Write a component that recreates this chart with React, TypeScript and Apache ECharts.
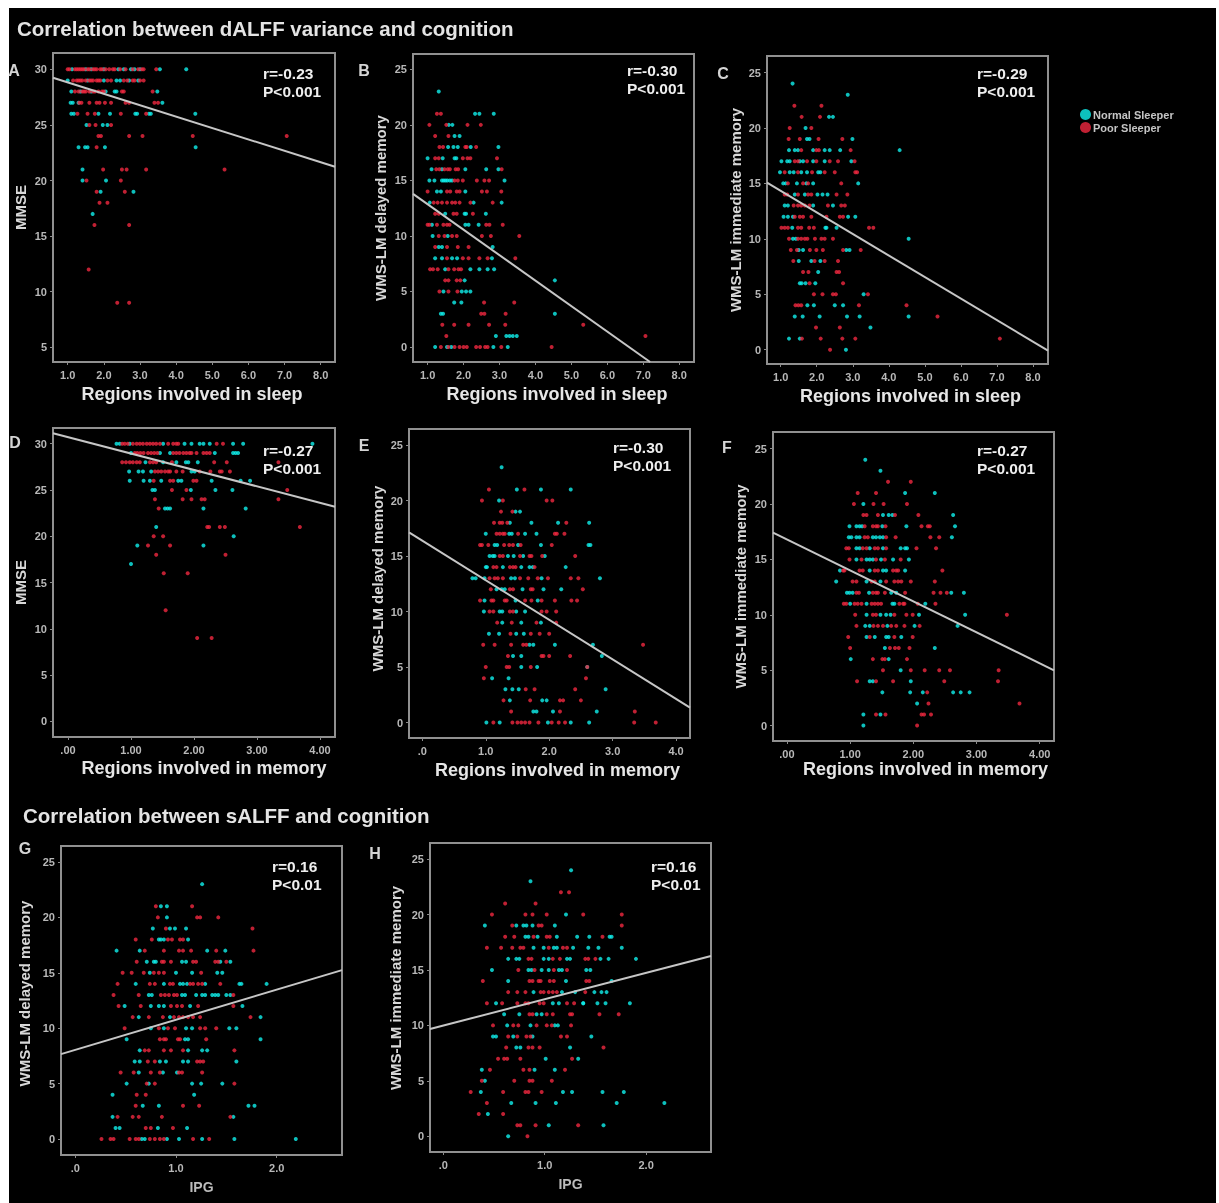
import React, { useEffect, useRef } from "react";
import * as echarts from "echarts";

type Row = [number, number[]];

// ---------- Panel A ----------
const normalA: Row[] = [
  [30, [1.12, 1.5, 1.65, 2.0, 2.4, 2.55, 2.75, 2.85, 3.0, 3.55, 4.28]],
  [29, [1.0, 1.55, 2.0, 2.35, 2.45, 2.7, 2.95]],
  [28, [1.1, 1.35, 1.65, 2.05, 2.3, 2.35, 3.48]],
  [27, [1.08, 1.14, 1.3, 3.62]],
  [26, [1.1, 1.17, 1.85, 2.17, 2.87, 2.92, 3.25, 3.3, 4.53]],
  [25, [1.52, 1.97, 2.1]],
  [23, [1.3, 1.48, 1.55, 2.03, 4.54]],
  [21, [1.41]],
  [20, [1.41, 2.06]],
  [19, [1.91, 2.82]],
  [17, [1.69]],
];
const poorA: Row[] = [
  [30, [1.0, 1.05, 1.2, 1.25, 1.3, 1.35, 1.4, 1.45, 1.55, 1.6, 1.7, 1.75, 1.8, 1.9, 1.95, 2.05, 2.15, 2.25, 2.3, 2.45, 2.6, 2.8, 2.95, 3.05, 3.1, 3.45]],
  [29, [1.15, 1.25, 1.3, 1.35, 1.4, 1.5, 1.6, 1.65, 1.7, 1.8, 1.85, 1.9, 2.1, 2.2, 2.55, 2.65, 2.8, 2.85, 3.0, 3.1]],
  [28, [1.2, 1.3, 1.4, 1.45, 1.5, 1.6, 1.7, 1.75, 1.85, 1.95, 2.0, 2.5, 2.55, 3.35]],
  [27, [1.32, 1.38, 1.6, 1.8, 1.88, 2.03, 2.2, 2.6, 2.7, 3.4, 3.5]],
  [26, [1.27, 1.55, 1.75, 2.47, 3.17]],
  [25, [1.6, 1.77, 2.2]],
  [24, [1.85, 1.92, 2.7, 3.07, 4.46, 7.06]],
  [23, [1.8]],
  [21, [1.98, 2.5, 2.63, 3.17, 5.34]],
  [20, [1.52, 2.47]],
  [19, [1.8, 2.58]],
  [18, [1.88, 2.1]],
  [16, [1.74, 2.7]],
  [12, [1.58]],
  [9, [2.37, 2.7]],
];
const fitA: number[][] = [[0.593, 29.24], [8.396, 21.24]];

// ---------- Panel B ----------
const normalB: Row[] = [
  [23, [1.31]],
  [21, [2.32, 2.44, 2.84]],
  [20, [1.59, 1.69]],
  [19, [1.75, 1.89]],
  [18, [1.57, 1.72, 1.84, 2.2, 2.97]],
  [17, [1.0, 1.42, 1.75, 1.8]],
  [16, [1.11, 1.4, 2.05, 2.63, 2.97]],
  [15, [1.05, 1.19, 1.4, 1.45, 1.5, 1.55, 1.62, 1.68, 3.14]],
  [14, [1.26, 1.37, 2.05]],
  [13, [1.06, 2.28, 3.06]],
  [12, [1.49, 2.03, 2.07, 2.62]],
  [11, [1.12, 2.05, 2.14, 2.42]],
  [10, [1.14, 1.56]],
  [9, [1.31, 1.4, 2.81]],
  [8, [1.21, 1.4, 1.68, 1.82, 2.79]],
  [7, [1.49, 2.19, 2.44, 2.67, 2.85]],
  [6, [2.03, 4.54]],
  [5, [1.44, 1.95, 2.07, 2.19]],
  [4, [1.74, 1.94]],
  [3, [1.37, 1.43, 4.54]],
  [1, [2.9, 3.19, 3.28, 3.37, 3.48]],
  [0, [1.21, 1.54, 1.66, 2.83, 3.23]],
];
const poorB: Row[] = [
  [21, [1.26, 1.37]],
  [20, [1.05, 1.52, 2.11, 2.48]],
  [19, [1.21, 1.58]],
  [18, [1.33, 1.43, 2.05, 2.09, 2.35]],
  [17, [1.21, 1.31, 1.98, 2.11, 2.19, 2.93]],
  [16, [1.24, 1.33, 1.47, 1.56, 1.62, 1.78, 1.85, 3.06]],
  [15, [1.75, 1.84, 1.98, 2.37, 2.58, 2.71]],
  [14, [1.0, 1.54, 1.63, 1.81, 1.89, 2.51, 2.65, 3.05]],
  [13, [1.17, 1.28, 1.4, 1.54, 1.68, 1.77, 1.89, 2.19, 2.81]],
  [12, [1.21, 1.31, 1.72, 1.81, 2.26]],
  [11, [1.0, 1.05, 1.26, 1.44, 1.54, 1.61, 2.63, 2.72, 3.09]],
  [10, [1.31, 1.47, 1.68, 1.81, 2.51, 2.76, 3.55]],
  [9, [1.21, 1.54, 1.84, 2.14]],
  [8, [1.54, 1.98, 2.14, 2.44, 2.67, 3.44]],
  [7, [1.07, 1.15, 1.28, 1.58, 1.74, 1.86, 1.93]],
  [6, [1.49, 1.58, 1.81, 1.91]],
  [5, [1.33, 1.58, 1.83]],
  [4, [2.57, 3.41]],
  [3, [2.49, 2.58, 3.17]],
  [2, [1.41, 1.74, 2.14, 2.71, 3.16, 5.33]],
  [1, [1.52, 7.06]],
  [0, [1.37, 1.58, 1.75, 1.89, 2.0, 2.09, 2.35, 2.46, 2.6, 2.67, 3.05, 4.45]],
];
const fitB: number[][] = [[0.594, 13.79], [7.19, -1.35]];

// ---------- Panel C ----------
const normalC: Row[] = [
  [24, [1.33]],
  [23, [2.86]],
  [21, [2.34, 2.45]],
  [20, [1.69]],
  [19, [1.73, 1.8, 2.99]],
  [18, [1.23, 1.39, 1.48, 1.9, 2.22, 2.36, 2.65, 4.3]],
  [17, [1.02, 1.18, 1.25, 1.53, 1.62, 1.9, 2.22, 2.96]],
  [16, [0.98, 1.25, 1.36, 1.57, 1.73, 2.04, 2.1]],
  [15, [1.07, 1.14, 1.45, 1.71, 1.9, 3.15]],
  [14, [1.39, 1.67, 2.02, 2.16, 2.3]],
  [13, [1.11, 1.2, 1.9, 2.45]],
  [12, [1.08, 1.2, 1.34, 2.87, 3.07]],
  [11, [1.32, 2.24, 2.27, 2.55]],
  [10, [1.34, 1.42, 4.55]],
  [9, [1.5, 1.62, 2.82, 2.91]],
  [8, [1.5, 1.85, 2.1]],
  [7, [2.04]],
  [6, [1.53, 1.58, 1.69, 1.96]],
  [5, [3.3]],
  [4, [1.74, 1.92, 2.5, 2.73]],
  [3, [1.39, 1.61, 2.08, 2.84, 3.19, 4.55]],
  [2, [3.49]],
  [1, [1.23, 1.53]],
  [0, [2.81]],
];
const poorC: Row[] = [
  [22, [1.38, 2.13]],
  [21, [1.58, 2.09]],
  [20, [1.25, 1.85]],
  [19, [1.22, 1.53, 2.05, 2.71]],
  [18, [1.57, 1.99, 2.06, 2.94]],
  [17, [1.39, 1.48, 1.73, 1.99, 2.36, 2.59, 3.05]],
  [16, [1.11, 1.48, 1.87, 2.22, 2.5, 3.07, 3.12]],
  [15, [1.2, 1.62, 1.76, 2.68]],
  [14, [1.11, 1.18, 1.48, 1.76, 1.85, 2.55, 2.85]],
  [13, [1.36, 1.48, 1.57, 1.67, 1.8, 2.31, 2.68, 2.78]],
  [12, [1.39, 1.53, 1.62, 1.85, 2.27, 2.64, 2.73]],
  [11, [1.02, 1.11, 1.2, 1.48, 1.57, 1.79, 1.92, 3.45, 3.57]],
  [10, [1.23, 1.48, 1.57, 1.67, 1.74, 1.95, 2.13, 2.22, 2.45]],
  [9, [1.28, 1.45, 1.81, 1.99, 2.17, 2.73, 3.22]],
  [8, [1.35, 1.94, 2.22, 2.59]],
  [7, [1.62, 1.77, 2.55, 2.62]],
  [6, [1.8, 2.73]],
  [5, [1.92, 2.16, 2.45, 2.53, 3.42]],
  [4, [1.41, 1.49, 1.57, 3.17, 4.49]],
  [3, [5.35]],
  [2, [1.98, 2.64]],
  [1, [1.59, 2.11, 2.71, 3.07, 7.08]],
  [0, [2.37]],
];
const fitC: number[][] = [[0.62, 15.06], [8.416, -0.09]];

// ---------- Panel D ----------
const normalD: Row[] = [
  [30, [0.77, 0.82, 0.98, 1.51, 1.85, 1.96, 2.09, 2.15, 2.25, 2.62, 2.78, 3.88]],
  [29, [1.0, 1.46, 1.62, 2.33, 2.62, 2.66, 2.7]],
  [28, [1.23, 1.51, 1.72, 1.87, 1.91, 2.06]],
  [27, [0.97, 1.12, 1.19, 1.32, 1.96, 2.01]],
  [26, [0.98, 1.2, 1.3, 1.48, 1.75, 1.8, 2.28, 2.74, 2.89]],
  [25, [1.34, 1.38, 1.95, 2.34, 2.61]],
  [23, [1.54, 1.58, 1.62, 2.15, 2.82]],
  [21, [1.4]],
  [20, [2.63]],
  [19, [1.1, 2.15]],
  [17, [1.0]],
];
const poorD: Row[] = [
  [30, [0.86, 0.9, 0.95, 1.03, 1.09, 1.14, 1.19, 1.25, 1.3, 1.35, 1.4, 1.46, 1.59, 1.67, 1.72, 1.75, 2.36, 2.46]],
  [29, [1.06, 1.1, 1.15, 1.2, 1.27, 1.32, 1.37, 1.42, 1.67, 1.72, 1.77, 1.83, 1.88, 1.93, 1.96, 2.04, 2.15, 2.2, 2.25]],
  [28, [0.86, 0.92, 0.98, 1.03, 1.09, 1.14, 1.3, 1.35, 1.4, 1.65, 2.32, 2.52, 3.34]],
  [27, [1.38, 1.43, 1.48, 1.54, 1.59, 1.62, 1.72, 1.82, 2.09, 2.26, 2.41, 2.44, 2.57]],
  [26, [1.36, 1.62, 1.67, 1.99, 2.04]],
  [25, [1.65, 1.88, 3.48]],
  [24, [1.38, 1.82, 1.96, 2.12, 2.17, 3.34]],
  [23, [1.44]],
  [21, [2.21, 2.24, 2.41, 2.49, 3.68]],
  [20, [1.36, 1.51]],
  [19, [1.27, 1.62]],
  [18, [1.4, 2.5]],
  [16, [1.52, 1.9]],
  [12, [1.55]],
  [9, [2.05, 2.28]],
];
const fitD: number[][] = [[-0.238, 31.14], [4.238, 23.2]];

// ---------- Panel E ----------
const normalE: Row[] = [
  [23, [1.25]],
  [21, [1.49, 1.87, 2.34]],
  [20, [1.21]],
  [19, [1.47, 1.54]],
  [18, [1.38, 1.72, 2.14, 2.63]],
  [17, [1.0, 1.37, 1.41, 1.62, 1.8]],
  [16, [1.14, 1.18, 1.51, 1.87, 2.62, 2.65]],
  [15, [1.06, 1.11, 1.14, 1.35, 1.44, 1.59, 1.93]],
  [14, [1.0, 1.02, 1.27, 1.56, 1.69, 1.74, 2.26]],
  [13, [0.79, 0.84, 0.98, 1.4, 1.46, 1.88, 2.8]],
  [12, [1.17, 1.25, 1.3, 1.58, 1.91, 2.19]],
  [11, [0.98, 1.47, 1.82]],
  [10, [0.97, 1.22, 1.26, 1.48, 1.62]],
  [9, [1.26, 1.56, 1.87]],
  [8, [1.05, 1.21, 1.48, 1.6]],
  [7, [1.69, 1.75, 2.09, 2.69]],
  [6, [1.43, 1.56, 2.83]],
  [5, [1.56, 1.81, 2.6]],
  [4, [1.1, 1.36]],
  [3, [1.31, 1.42, 1.52, 2.89]],
  [2, [1.38, 1.89, 1.96]],
  [1, [1.75, 1.8, 2.06, 2.75]],
  [0, [1.01, 1.22, 1.98, 2.34, 2.63]],
];
const poorE: Row[] = [
  [21, [1.05, 1.61]],
  [20, [0.94, 1.27, 1.96, 2.05]],
  [19, [1.24, 1.42]],
  [18, [1.13, 1.22, 1.26, 1.34, 2.27]],
  [17, [1.17, 1.22, 1.27, 1.3, 1.51, 2.09, 2.12, 2.24]],
  [16, [0.91, 0.94, 1.04, 1.29, 1.37, 1.43, 1.55, 2.04]],
  [15, [1.22, 1.27, 1.54, 1.69, 1.72, 1.89, 2.41]],
  [14, [1.12, 1.17, 1.38, 1.43, 1.47, 1.77]],
  [13, [1.06, 1.14, 1.19, 1.27, 1.54, 1.67, 1.82, 1.98, 2.34, 2.46]],
  [12, [1.08, 1.38, 1.43, 1.71, 1.74, 2.53]],
  [11, [0.91, 1.09, 1.12, 1.3, 1.33, 1.62, 1.72, 1.88, 2.09, 2.35, 2.44]],
  [10, [1.06, 1.12, 1.38, 1.43, 1.88, 1.96, 2.11]],
  [9, [1.18, 1.41, 1.8, 2.11]],
  [8, [1.39, 1.71, 1.85, 2.0]],
  [7, [0.96, 1.14, 1.4, 1.59, 1.64, 3.48]],
  [6, [1.35, 1.88, 1.91, 2.0, 2.33]],
  [5, [1.0, 1.33, 1.37, 1.71, 2.6]],
  [4, [0.97, 2.58]],
  [3, [1.63, 1.77, 2.41]],
  [2, [1.28, 1.7, 2.17, 2.22, 2.5]],
  [1, [1.4, 2.17, 3.35]],
  [0, [1.12, 1.42, 1.5, 1.56, 1.62, 1.69, 1.83, 2.04, 2.15, 2.25, 3.34, 3.68]],
];
const fitE: number[][] = [[-0.21, 17.13], [4.22, 1.35]];

// ---------- Panel F ----------
const normalF: Row[] = [
  [24, [1.24]],
  [23, [1.48]],
  [21, [1.87, 2.34]],
  [20, [1.21]],
  [19, [1.52, 1.61, 1.67, 2.63]],
  [18, [0.99, 1.1, 1.15, 1.19, 1.51, 1.89, 2.66]],
  [17, [0.98, 1.02, 1.1, 1.15, 1.36, 1.41, 1.47, 1.52, 2.61]],
  [16, [1.1, 1.15, 1.31, 1.52, 1.8, 1.87, 1.9]],
  [15, [1.1, 1.26, 1.31, 1.36, 1.49, 1.68, 1.93]],
  [14, [0.84, 1.31, 1.52, 1.57, 1.87]],
  [13, [0.78, 1.26, 1.48]],
  [12, [0.95, 0.99, 1.04, 1.3, 1.65, 1.73, 2.6, 2.8]],
  [11, [1.0, 1.26, 1.67, 1.7, 2.19]],
  [10, [1.26, 1.48, 1.57, 1.64, 2.09, 2.82]],
  [9, [1.24, 1.31, 1.59, 2.02, 2.7]],
  [8, [1.26, 1.39, 1.57, 1.61, 1.81]],
  [7, [1.55, 2.34]],
  [6, [1.01, 1.61]],
  [5, [1.8]],
  [4, [1.31, 1.36, 1.96]],
  [3, [1.51, 1.95, 2.15, 2.63, 2.75, 2.89]],
  [2, [2.06]],
  [1, [1.21, 1.48]],
  [0, [1.21]],
];
const poorF: Row[] = [
  [22, [1.6, 1.96]],
  [21, [1.12, 1.41]],
  [20, [1.06, 1.37, 1.53, 1.9]],
  [19, [1.21, 1.26, 1.44, 1.71, 2.08]],
  [18, [1.23, 1.36, 1.41, 1.44, 1.56, 2.13, 2.23, 2.26]],
  [17, [1.23, 1.28, 1.57, 1.72, 2.27, 2.41]],
  [16, [0.94, 0.98, 1.2, 1.26, 1.39, 1.44, 1.57, 2.05, 2.36]],
  [15, [0.99, 1.18, 1.41, 1.55, 1.8]],
  [14, [0.89, 0.91, 1.15, 1.2, 1.39, 1.44, 1.68, 1.73, 1.76, 2.46]],
  [13, [1.04, 1.1, 1.34, 1.39, 1.57, 1.7, 1.76, 1.81, 1.96, 2.34]],
  [12, [1.1, 1.14, 1.36, 1.41, 1.44, 1.55, 1.87, 2.32, 2.43, 2.53]],
  [11, [0.9, 0.94, 1.07, 1.12, 1.18, 1.34, 1.39, 1.44, 1.49, 1.78, 1.84, 1.86, 2.07, 2.35]],
  [10, [1.08, 1.36, 1.41, 1.7, 1.89, 1.99, 3.48]],
  [9, [1.1, 1.37, 1.44, 1.52, 1.65, 1.73, 1.86, 2.1]],
  [8, [0.97, 1.31, 1.7, 1.99]],
  [7, [1.0, 1.63, 1.71, 1.77, 1.94]],
  [6, [1.36, 1.51, 1.55, 1.9]],
  [5, [1.52, 1.96, 2.18, 2.41, 2.58, 3.35]],
  [4, [1.11, 1.41, 1.68, 2.49, 3.34]],
  [3, [2.22]],
  [2, [2.24, 3.68]],
  [1, [1.41, 1.56, 2.13, 2.17, 2.28]],
  [0, [2.06]],
];
const fitF: number[][] = [[-0.22, 17.42], [4.226, 4.99]];

// ---------- Panel G ----------
const normalG: Row[] = [
  [23, [1.26]],
  [21, [0.85, 0.91]],
  [20, [0.91]],
  [19, [0.77, 0.94, 0.99, 1.1]],
  [18, [0.83, 0.85, 0.88, 1.12]],
  [17, [0.41, 0.64, 1.31, 1.49]],
  [16, [0.71, 0.78, 0.8, 1.06, 1.1, 1.44, 1.54]],
  [15, [0.74, 1.0, 1.16, 1.41, 1.46]],
  [14, [0.6, 0.88, 1.04, 1.07, 1.11, 1.29, 1.63, 1.65, 1.9]],
  [13, [0.73, 0.76, 1.06, 1.09, 1.2, 1.26, 1.29, 1.36, 1.39, 1.42, 1.5, 1.54]],
  [12, [0.49, 0.75, 0.83, 0.88, 1.14, 1.66]],
  [11, [0.63, 0.94, 1.84]],
  [10, [0.75, 0.88, 1.1, 1.16, 1.53, 1.6]],
  [9, [0.51, 1.09, 1.12, 1.84]],
  [8, [0.64, 1.12, 1.26, 1.31]],
  [7, [0.59, 0.64, 0.84, 0.9, 1.07, 1.12, 1.6]],
  [6, [0.63, 0.87, 1.01]],
  [5, [0.51, 0.73, 1.16, 1.25, 1.46]],
  [4, [0.37, 1.18]],
  [3, [0.67, 0.83, 1.72, 1.78]],
  [2, [0.37, 1.57]],
  [1, [0.4, 0.44, 0.82, 1.11]],
  [0, [0.66, 0.69, 0.91, 1.03, 1.26, 1.58, 2.19]],
];
const poorG: Row[] = [
  [21, [0.8, 1.16]],
  [20, [0.82, 1.21, 1.24, 1.42]],
  [19, [0.9, 1.76]],
  [18, [0.6, 0.76, 0.92, 0.96, 1.04, 1.07]],
  [17, [0.69, 0.88, 1.03, 1.07, 1.15, 1.4, 1.77]],
  [16, [0.61, 0.86, 0.88, 0.95, 1.17, 1.2, 1.39, 1.42, 1.5]],
  [15, [0.47, 0.56, 0.68, 0.78, 0.83, 0.88, 1.25]],
  [14, [0.42, 0.74, 0.79, 0.94, 0.97, 1.14, 1.17, 1.22, 1.26, 1.44]],
  [13, [0.38, 0.63, 0.85, 0.89, 0.93, 0.98, 1.01, 1.57]],
  [12, [0.43, 0.65, 0.95, 1.01, 1.06, 1.22, 1.57]],
  [11, [0.57, 0.73, 0.87, 0.98, 1.03, 1.07, 1.12, 1.17, 1.24, 1.74]],
  [10, [0.49, 0.83, 0.92, 0.99, 1.24, 1.29, 1.4]],
  [9, [0.84, 0.88, 0.9, 1.02, 1.04, 1.3]],
  [8, [0.69, 0.73, 0.88, 0.95, 1.07, 1.58]],
  [7, [0.72, 0.79, 1.21, 1.24, 1.27]],
  [6, [0.45, 0.58, 0.75, 0.84, 1.03, 1.06, 1.26]],
  [5, [0.71, 0.79, 1.58]],
  [4, [0.61, 0.7]],
  [3, [0.6, 1.07, 1.23]],
  [2, [0.42, 0.57, 0.63, 0.86, 1.54]],
  [1, [0.7, 0.75, 0.97]],
  [0, [0.26, 0.35, 0.38, 0.54, 0.6, 0.63, 0.74, 0.79, 0.84, 0.88, 1.17, 1.33]],
];
const fitG: number[][] = [[-0.142, 7.66], [2.649, 15.24]];

// ---------- Panel H ----------
const normalH: Row[] = [
  [24, [1.26]],
  [23, [0.86]],
  [20, [1.21]],
  [19, [0.41, 0.72, 0.79, 0.82, 0.88, 1.1]],
  [18, [0.81, 0.84, 0.93, 1.12, 1.32, 1.44, 1.64, 1.66]],
  [17, [0.89, 0.99, 1.09, 1.12, 1.28, 1.43, 1.53, 1.76]],
  [16, [0.64, 0.72, 0.75, 0.99, 1.04, 1.22, 1.25, 1.55, 1.63, 1.9]],
  [15, [0.48, 0.84, 0.87, 0.97, 1.04, 1.14, 1.17, 1.41, 1.45]],
  [14, [0.64, 1.21, 1.66]],
  [13, [0.89, 1.17, 1.3, 1.49, 1.56, 1.61]],
  [12, [0.52, 1.08, 1.14, 1.38, 1.38, 1.52, 1.6, 1.84]],
  [11, [0.6, 0.75, 0.92, 0.97]],
  [10, [0.63, 0.86, 1.1, 1.13]],
  [9, [0.49, 0.52, 0.69, 0.88, 1.46]],
  [8, [0.72, 0.76, 1.25]],
  [7, [1.01, 1.33]],
  [6, [0.38, 0.9, 1.1]],
  [5, [0.41]],
  [4, [0.37, 1.18, 1.27, 1.57, 1.78]],
  [3, [0.67, 0.91, 1.11, 1.71, 2.18]],
  [2, [0.44]],
  [1, [1.04, 1.58]],
  [0, [0.64]],
];
const poorH: Row[] = [
  [22, [1.16, 1.24]],
  [21, [0.61, 0.91]],
  [20, [0.48, 0.81, 0.88, 1.02, 1.38, 1.76]],
  [19, [0.68, 0.94, 0.97, 1.76]],
  [18, [0.61, 0.7, 0.89, 1.02, 1.05, 1.57]],
  [17, [0.43, 0.57, 0.68, 0.76, 0.79, 1.04, 1.18, 1.22]],
  [16, [0.84, 0.87, 1.08, 1.15, 1.4, 1.43, 1.5]],
  [15, [0.74, 0.9, 1.09, 1.22]],
  [14, [0.39, 0.85, 0.88, 0.94, 0.96, 1.05, 1.09, 1.41, 1.44]],
  [13, [0.64, 0.73, 0.81, 0.96, 0.99, 1.04, 1.08, 1.12, 1.4]],
  [12, [0.43, 0.58, 0.73, 0.81, 0.84, 0.95, 0.99, 1.22, 1.29]],
  [11, [0.85, 0.88, 1.02, 1.08, 1.25, 1.27, 1.54, 1.73]],
  [10, [0.49, 0.69, 0.74, 0.92, 1.02, 1.07, 1.26]],
  [9, [0.64, 0.73, 0.82, 0.86, 1.16, 1.22]],
  [8, [0.62, 0.84, 0.88, 0.95, 1.58]],
  [7, [0.54, 0.6, 0.63, 0.76, 1.27]],
  [6, [0.46, 0.79, 0.85, 1.2]],
  [5, [0.38, 0.7, 0.85, 0.88, 1.07]],
  [4, [0.27, 0.59, 0.81, 0.84, 0.97]],
  [3, [0.43]],
  [2, [0.35, 0.59]],
  [1, [0.73, 0.76, 0.91, 1.33]],
  [0, [0.83]],
];
const fitH: number[][] = [[-0.131, 9.67], [2.64, 16.26]];

// ---------- Text ----------
const legendNames = ["Normal Sleeper", "Poor Sleeper"];
const sectionTitles = ["Correlation between dALFF variance and cognition", "Correlation between sALFF and cognition"];
const sleepTicks = [1, 2, 3, 4, 5, 6, 7, 8];
const memoryTicks = [0, 1, 2, 3, 4];
const ipgTicks = [0, 1, 2];
const mmseTicksA = [5, 10, 15, 20, 25, 30];
const mmseTicksD = [0, 5, 10, 15, 20, 25, 30];
const memoryScoreTicks = [0, 5, 10, 15, 20, 25];

const fmt1 = (v: number) => (v === 0 ? ".0" : v.toFixed(1));
const fmt2 = (v: number) => (v === 0 ? ".00" : v.toFixed(2));

const panels = [
  { id: "A", n: normalA, p: poorA, fit: fitA, xName: "Regions involved in sleep", yName: "MMSE", xTicks: sleepTicks, yTicks: mmseTicksA, fmt: fmt1, stat: "r=-0.23\nP<0.001" },
  { id: "B", n: normalB, p: poorB, fit: fitB, xName: "Regions involved in sleep", yName: "WMS-LM delayed memory", xTicks: sleepTicks, yTicks: memoryScoreTicks, fmt: fmt1, stat: "r=-0.30\nP<0.001" },
  { id: "C", n: normalC, p: poorC, fit: fitC, xName: "Regions involved in sleep", yName: "WMS-LM immediate memory", xTicks: sleepTicks, yTicks: memoryScoreTicks, fmt: fmt1, stat: "r=-0.29\nP<0.001" },
  { id: "D", n: normalD, p: poorD, fit: fitD, xName: "Regions involved in memory", yName: "MMSE", xTicks: memoryTicks, yTicks: mmseTicksD, fmt: fmt2, stat: "r=-0.27\nP<0.001" },
  { id: "E", n: normalE, p: poorE, fit: fitE, xName: "Regions involved in memory", yName: "WMS-LM delayed memory", xTicks: memoryTicks, yTicks: memoryScoreTicks, fmt: fmt1, stat: "r=-0.30\nP<0.001" },
  { id: "F", n: normalF, p: poorF, fit: fitF, xName: "Regions involved in memory", yName: "WMS-LM immediate memory", xTicks: memoryTicks, yTicks: memoryScoreTicks, fmt: fmt2, stat: "r=-0.27\nP<0.001" },
  { id: "G", n: normalG, p: poorG, fit: fitG, xName: "IPG", yName: "WMS-LM delayed memory", xTicks: ipgTicks, yTicks: memoryScoreTicks, fmt: fmt1, stat: "r=0.16\nP<0.01" },
  { id: "H", n: normalH, p: poorH, fit: fitH, xName: "IPG", yName: "WMS-LM immediate memory", xTicks: ipgTicks, yTicks: memoryScoreTicks, fmt: fmt1, stat: "r=0.16\nP<0.01" },
];

// ---------- Layout (page pixels and axis windows) ----------
const layout = [
  { l: 53, r: 335, t: 53, b: 362, xMin: 0.593, xMax: 8.396, yMin: 3.68, yMax: 31.47, lab: [14, 70], st: [263, 82], xPad: [0, 4, 0, 0], xGap: 32, yPad: [0, 0, 0, 0], yGap: 33 },
  { l: 413, r: 694, t: 54, b: 362, xMin: 0.594, xMax: 8.41, yMin: -1.35, yMax: 26.38, lab: [364, 70], st: [627, 79], xPad: [0, 0, 0, 7], xGap: 32, yPad: [0, 0, 0, 0], yGap: 33 },
  { l: 767, r: 1048, t: 56, b: 364, xMin: 0.62, xMax: 8.416, yMin: -1.29, yMax: 26.49, lab: [723, 73], st: [977, 82], xPad: [0, 0, 0, 6], xGap: 32, yPad: [0, 0, 0, 0], yGap: 32 },
  { l: 53, r: 335, t: 428, b: 737, xMin: -0.238, xMax: 4.238, yMin: -1.69, yMax: 31.7, lab: [15, 442], st: [263, 459], xPad: [0, 0, 0, 20], xGap: 31, yPad: [0, 0, 0, 0], yGap: 33 },
  { l: 409, r: 690, t: 429, b: 738, xMin: -0.21, xMax: 4.22, yMin: -1.39, yMax: 26.44, lab: [364, 445], st: [613, 456], xPad: [0, 0, 0, 16], xGap: 32, yPad: [0, 0, 0, 10], yGap: 32 },
  { l: 773, r: 1054, t: 432, b: 741, xMin: -0.22, xMax: 4.226, yMin: -1.39, yMax: 26.5, lab: [727, 447], st: [977, 459], xPad: [0, 0, 0, 24], xGap: 28, yPad: [0, 0, 0, 0], yGap: 33 },
  { l: 61, r: 342, t: 846, b: 1155, xMin: -0.142, xMax: 2.649, yMin: -1.44, yMax: 26.44, lab: [25, 848], st: [272, 875], xPad: [0, 0, 0, 0], xGap: 32, yPad: [0, 0, 0, 14], yGap: 37 },
  { l: 430, r: 711, t: 843, b: 1152, xMin: -0.131, xMax: 2.64, yMin: -1.42, yMax: 26.45, lab: [375, 853], st: [651, 875], xPad: [0, 0, 0, 0], xGap: 32, yPad: [0, 0, 0, 19], yGap: 35 },
];

const FONT = "Liberation Sans";
const BLACK = "#000000";
const CYAN = "#10f0ec";
const RED = "#f02840";
const W = 1219;
const H = 1203;

const toPoints = (rows: Row[]) => rows.flatMap(([y, xs]) => xs.map((x) => [x, y]));

function buildOption() {
  const grid: any[] = [];
  const xAxis: any[] = [];
  const yAxis: any[] = [];
  const series: any[] = [];
  const texts: any[] = [
    { type: "rect", z: -10, silent: true, shape: { x: 9, y: 8, width: W - 12, height: H - 8 }, style: { fill: BLACK } },
    { type: "text", x: 17, y: 28, style: { text: sectionTitles[0], fill: "#e4e4e4", font: `bold 20.5px "${FONT}"`, textVerticalAlign: "middle" } },
    { type: "text", x: 23, y: 815, style: { text: sectionTitles[1], fill: "#e4e4e4", font: `bold 20.5px "${FONT}"`, textVerticalAlign: "middle" } },
  ];

  panels.forEach((p, i) => {
    const g = layout[i];
    const small = p.xName === "IPG";
    grid.push({ left: g.l, top: g.t, width: g.r - g.l, height: g.b - g.t, show: true, borderColor: "#909090", borderWidth: 2, backgroundColor: "transparent", containLabel: false });
    xAxis.push({
      type: "value", gridIndex: i, min: g.xMin, max: g.xMax, splitLine: { show: false }, axisLine: { show: false, onZero: false },
      axisTick: { show: true, length: 3, inside: false, customValues: p.xTicks, lineStyle: { color: "#8a8a8a", width: 1 } },
      axisLabel: { color: "#b8b8b8", fontFamily: FONT, fontSize: 11, fontWeight: "bold", margin: 7, customValues: p.xTicks, formatter: (v: number) => p.fmt(v) },
      name: p.xName, nameLocation: "middle", nameGap: g.xGap,
      nameTextStyle: { color: small ? "#bcbcbc" : "#e6e6e6", fontFamily: FONT, fontWeight: "bold", fontSize: small ? 14 : 18, verticalAlign: "middle", padding: g.xPad },
    });
    yAxis.push({
      type: "value", gridIndex: i, min: g.yMin, max: g.yMax, splitLine: { show: false }, axisLine: { show: false, onZero: false },
      axisTick: { show: true, length: 3, inside: false, customValues: p.yTicks, lineStyle: { color: "#8a8a8a", width: 1 } },
      axisLabel: { color: "#b8b8b8", fontFamily: FONT, fontSize: 11, fontWeight: "bold", margin: 6, customValues: p.yTicks, formatter: (v: number) => String(v) },
      name: p.yName, nameLocation: "middle", nameGap: g.yGap, nameRotate: 90,
      nameTextStyle: { color: "#d8d8d8", fontFamily: FONT, fontWeight: "bold", fontSize: 15, verticalAlign: "middle", padding: g.yPad },
    });
    series.push(
      { type: "scatter", name: legendNames[0], xAxisIndex: i, yAxisIndex: i, symbolSize: 4, itemStyle: { color: CYAN }, data: toPoints(p.n) },
      { type: "scatter", name: legendNames[1], xAxisIndex: i, yAxisIndex: i, symbolSize: 4, itemStyle: { color: RED }, data: toPoints(p.p) },
      { type: "line", name: `Fit ${p.id}`, xAxisIndex: i, yAxisIndex: i, showSymbol: false, symbol: "none", z: 5, lineStyle: { color: "#c6c6c6", width: 2 }, data: p.fit }
    );
    texts.push(
      { type: "text", x: g.lab[0], y: g.lab[1], style: { text: p.id, fill: "#d4d4d4", font: `bold 16px "${FONT}"`, textAlign: "center", textVerticalAlign: "middle" } },
      { type: "text", x: g.st[0], y: g.st[1], style: { text: p.stat, fill: "#eeeeee", font: `bold 15.5px "${FONT}"`, lineHeight: 18, textVerticalAlign: "middle" } }
    );
  });

  return {
    animation: false,
    backgroundColor: "#ffffff",
    grid, xAxis, yAxis, series,
    legend: {
      data: legendNames, orient: "vertical", left: 1080, top: 109, itemWidth: 11, itemHeight: 11, itemGap: 2, icon: "circle", selectedMode: false, padding: 0,
      textStyle: { color: "#c4c4c4", fontFamily: FONT, fontSize: 11, fontWeight: "bold", padding: [0, 0, 0, -3] },
    },
    graphic: { elements: texts },
  };
}

export default function App() {
  const ref = useRef<HTMLDivElement>(null);
  useEffect(() => {
    if (!ref.current) return;
    const chart = echarts.init(ref.current, undefined, { renderer: "svg" });
    chart.setOption(buildOption());
    return () => chart.dispose();
  }, []);
  return <div ref={ref} style={{ position: "absolute", left: 0, top: 0, width: W, height: H, filter: "blur(0.4px)" }} />;
}
